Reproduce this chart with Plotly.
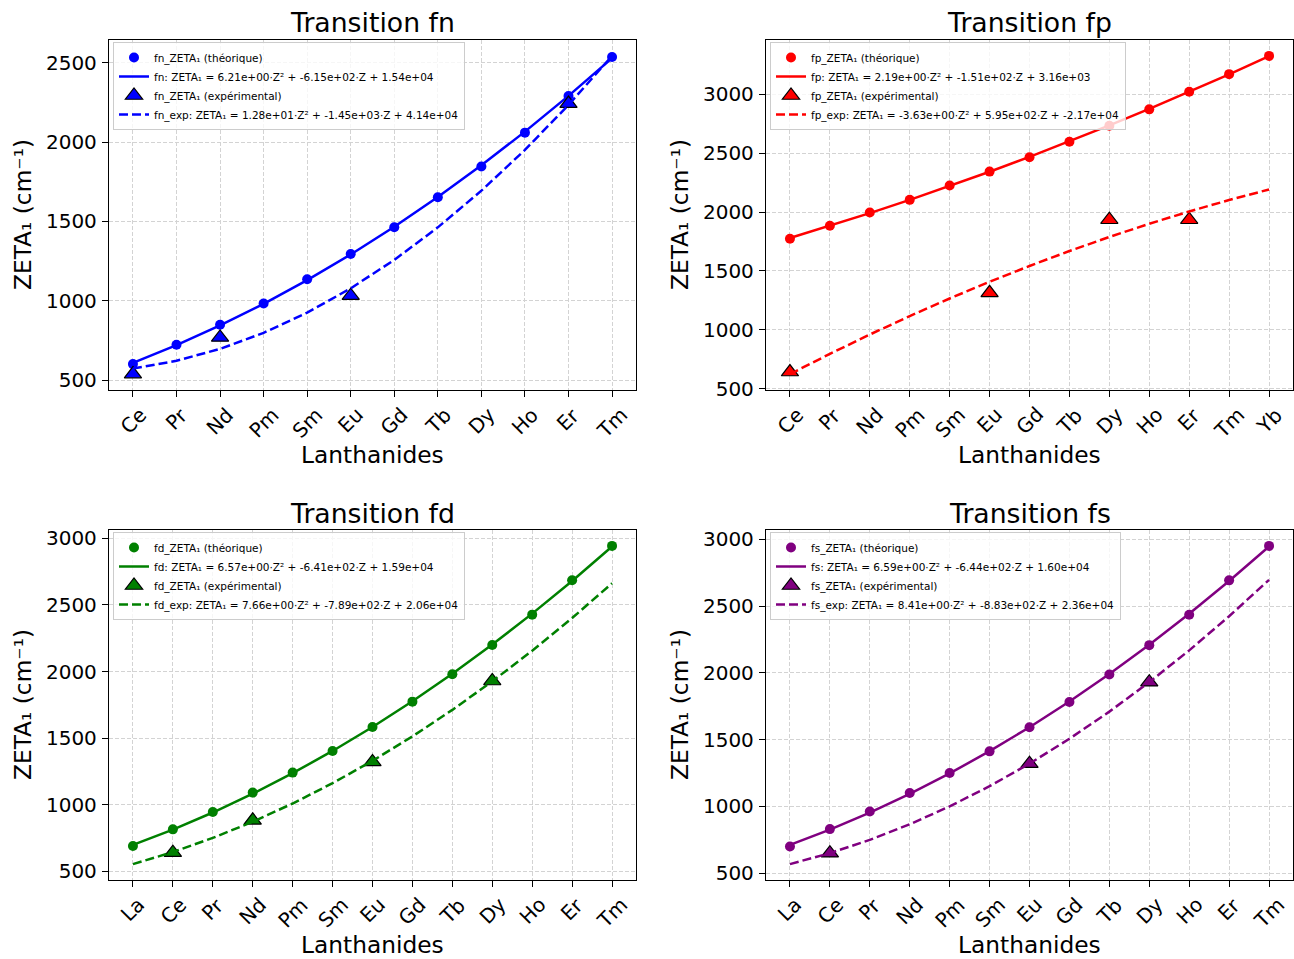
import numpy as np
import plotly.graph_objects as go

W, H = 1294, 959
FONT = "DejaVu Sans"

# Atomic numbers of the lanthanides
Z_OF = {"La": 57, "Ce": 58, "Pr": 59, "Nd": 60, "Pm": 61, "Sm": 62, "Eu": 63,
        "Gd": 64, "Tb": 65, "Dy": 66, "Ho": 67, "Er": 68, "Tm": 69, "Yb": 70}

# ---- fn transition ----
fn_cats = ["Ce", "Pr", "Nd", "Pm", "Sm", "Eu", "Gd", "Tb", "Dy", "Ho", "Er", "Tm"]
fn_theo = [601, 723, 849, 983, 1135, 1295, 1463, 1652, 1846, 2059, 2290, 2536]
fn_exp_cats = ["Ce", "Nd", "Eu", "Er"]
fn_exp = [538, 769, 1032, 2242]

# ---- fp transition ----
fp_cats = ["Ce", "Pr", "Nd", "Pm", "Sm", "Eu", "Gd", "Tb", "Dy", "Ho", "Er", "Tm", "Yb"]
fp_theo = [1774, 1884, 1997, 2104, 2226, 2344, 2466, 2598, 2734, 2873, 3022, 3172, 3327]
fp_exp_cats = ["Ce", "Eu", "Dy", "Er"]
fp_exp = [641, 1314, 1935, 1935]

# ---- fd transition ----
fd_cats = ["La", "Ce", "Pr", "Nd", "Pm", "Sm", "Eu", "Gd", "Tb", "Dy", "Ho", "Er", "Tm"]
fd_theo = [690, 815, 945, 1091, 1241, 1403, 1584, 1774, 1979, 2199, 2427, 2685, 2943]
fd_exp_cats = ["Ce", "Nd", "Eu", "Dy"]
fd_exp = [640, 883, 1321, 1929]

# ---- fs transition ----
fs_cats = ["La", "Ce", "Pr", "Nd", "Pm", "Sm", "Eu", "Gd", "Tb", "Dy", "Ho", "Er", "Tm"]
fs_theo = [700, 830, 962, 1100, 1250, 1412, 1592, 1782, 1987, 2207, 2435, 2692, 2950]
fs_exp_cats = ["Ce", "Eu", "Dy"]
fs_exp = [650, 1320, 1930]

# Fit equations shown in the legends
fn_fit_label = "fn: ZETA₁ = 6.21e+00·Z² + -6.15e+02·Z + 1.54e+04"
fn_expfit_label = "fn_exp: ZETA₁ = 1.28e+01·Z² + -1.45e+03·Z + 4.14e+04"
fp_fit_label = "fp: ZETA₁ = 2.19e+00·Z² + -1.51e+02·Z + 3.16e+03"
fp_expfit_label = "fp_exp: ZETA₁ = -3.63e+00·Z² + 5.95e+02·Z + -2.17e+04"
fd_fit_label = "fd: ZETA₁ = 6.57e+00·Z² + -6.41e+02·Z + 1.59e+04"
fd_expfit_label = "fd_exp: ZETA₁ = 7.66e+00·Z² + -7.89e+02·Z + 2.06e+04"
fs_fit_label = "fs: ZETA₁ = 6.59e+00·Z² + -6.44e+02·Z + 1.60e+04"
fs_expfit_label = "fs_exp: ZETA₁ = 8.41e+00·Z² + -8.83e+02·Z + 2.36e+04"


def px(x):
    return x / W


def py(y):
    return 1 - y / H


# name, colour, categories, theoretical, exp categories, exp values, labels, axes box (l, t, r, b) in px
panels = [
    ("fn", "#0000ff", fn_cats, fn_theo, fn_exp_cats, fn_exp, fn_fit_label, fn_expfit_label, (109, 40, 636, 390)),
    ("fp", "#ff0000", fp_cats, fp_theo, fp_exp_cats, fp_exp, fp_fit_label, fp_expfit_label, (766, 40, 1293, 390)),
    ("fd", "#008000", fd_cats, fd_theo, fd_exp_cats, fd_exp, fd_fit_label, fd_expfit_label, (109, 530, 636, 880)),
    ("fs", "#800080", fs_cats, fs_theo, fs_exp_cats, fs_exp, fs_fit_label, fs_expfit_label, (766, 530, 1293, 880)),
]

fig = go.Figure()
annotations = []
layout = {}

for i, (name, col, cats, theo, ecats, evals, lab_fit, lab_efit, box) in enumerate(panels, start=1):
    l, t, r, b = box
    sfx = "" if i == 1 else str(i)
    xa, ya = "x" + sfx, "y" + sfx
    leg = "legend" + sfx

    z = np.array([Z_OF[c] for c in cats], dtype=float)
    ze = np.array([Z_OF[c] for c in ecats], dtype=float)
    theo_a = np.array(theo, dtype=float)
    exp_a = np.array(evals, dtype=float)

    # quadratic least-squares fits in Z
    fit_t = np.polyval(np.polyfit(z, theo_a, 2), z)
    fit_e = np.polyval(np.polyfit(ze, exp_a, 2), z)

    fig.add_trace(go.Scatter(
        x=z, y=theo_a, mode="markers", name=f"{name}_ZETA₁ (théorique)",
        marker=dict(color=col, size=10, symbol="circle"),
        xaxis=xa, yaxis=ya, legend=leg))
    fig.add_trace(go.Scatter(
        x=z, y=fit_t, mode="lines", name=lab_fit,
        line=dict(color=col, width=2.5),
        xaxis=xa, yaxis=ya, legend=leg))
    fig.add_trace(go.Scatter(
        x=ze, y=exp_a, mode="markers", name=f"{name}_ZETA₁ (expérimental)",
        marker=dict(color=col, size=15, symbol="triangle-up",
                    line=dict(color="black", width=1.2)),
        xaxis=xa, yaxis=ya, legend=leg))
    fig.add_trace(go.Scatter(
        x=z, y=fit_e, mode="lines", name=lab_efit,
        line=dict(color=col, width=2.5, dash="9px,4px"),
        xaxis=xa, yaxis=ya, legend=leg))

    # autoscale with 5 % margins
    allv = np.concatenate([theo_a, fit_t, exp_a, fit_e])
    lo, hi = allv.min(), allv.max()
    pad = 0.05 * (hi - lo)
    zspan = z.max() - z.min()

    axis_common = dict(
        showline=True, linecolor="black", linewidth=1.3, mirror=True,
        ticks="outside", ticklen=6, tickwidth=1.3, tickcolor="black",
        showgrid=True, gridcolor="#d3d3d3", gridwidth=1.1, griddash="4px,2px",
        zeroline=False, automargin=False,
    )
    layout["xaxis" + sfx] = dict(
        axis_common, domain=[px(l), px(r)], anchor=ya,
        range=[z.min() - 0.05 * zspan, z.max() + 0.05 * zspan],
        tickmode="array", tickvals=list(z), showticklabels=False,
    )
    layout["yaxis" + sfx] = dict(
        axis_common, domain=[py(b), py(t)], anchor=xa,
        range=[lo - pad, hi + pad], tick0=0, dtick=500,
        tickfont=dict(family=FONT, size=20, color="black"),
        ticklabelstandoff=1,
    )
    layout[leg] = dict(
        x=px(l + 4), y=py(t + 2), xanchor="left", yanchor="top",
        bgcolor="rgba(255,255,255,0.8)", bordercolor="#cccccc", borderwidth=1,
        font=dict(family=FONT, size=10.5, color="black"), itemwidth=30,
        tracegroupgap=0,
    )

    # rotated category labels
    for c, zz in zip(cats, z):
        annotations.append(dict(
            x=zz, xref=xa, y=py(b), yref="paper", text=c, showarrow=False,
            textangle=-45, xanchor="center", yanchor="top", yshift=-10,
            font=dict(family=FONT, size=20, color="black")))
    # panel title
    annotations.append(dict(
        x=px((l + r) / 2), y=py(t - 17), xref="paper", yref="paper",
        text=f"Transition {name}", showarrow=False, xanchor="center", yanchor="middle",
        font=dict(family=FONT, size=26.7, color="black")))
    # axis titles
    annotations.append(dict(
        x=px((l + r) / 2), y=py(b + 64), xref="paper", yref="paper",
        text="Lanthanides", showarrow=False, xanchor="center", yanchor="middle",
        font=dict(family=FONT, size=23.3, color="black")))
    annotations.append(dict(
        x=px(l - 87), y=py((t + b) / 2), xref="paper", yref="paper",
        text="ZETA₁ (cm⁻¹)", showarrow=False, textangle=-90,
        xanchor="center", yanchor="middle",
        font=dict(family=FONT, size=23.3, color="black")))

fig.update_layout(
    template="none",
    width=W, height=H,
    margin=dict(l=0, r=0, t=0, b=0, pad=0),
    paper_bgcolor="white", plot_bgcolor="white",
    font=dict(family=FONT, color="black"),
    annotations=annotations,
    **layout,
)

fig.write_html("out.html")
